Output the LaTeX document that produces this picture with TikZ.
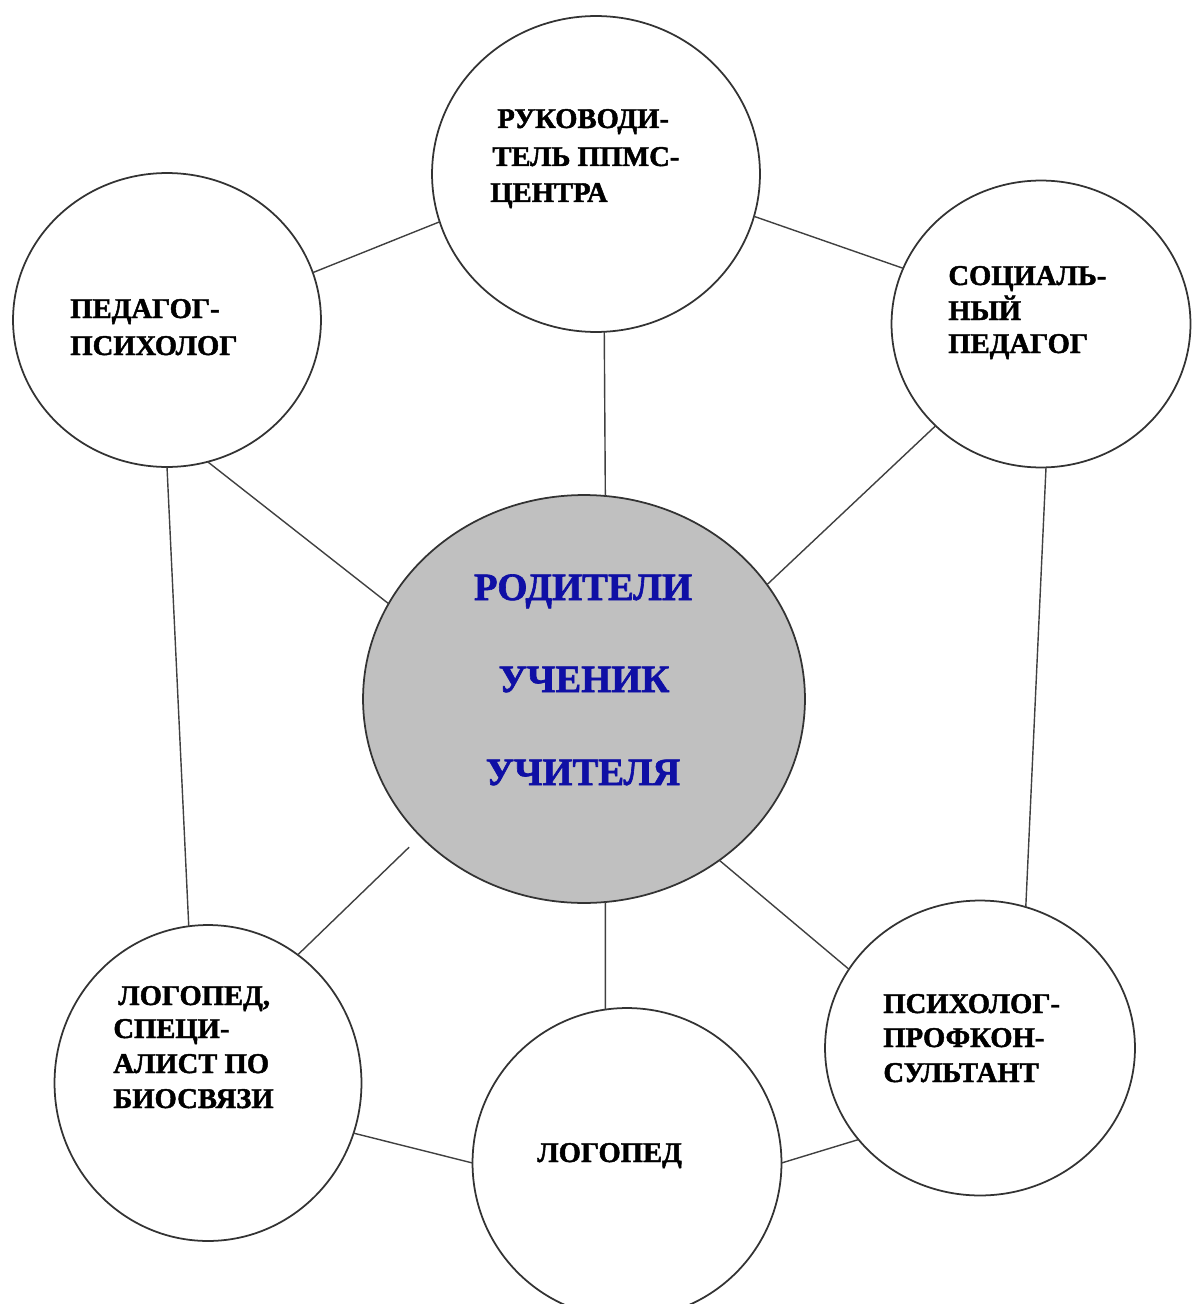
\documentclass[tikz,border=0pt]{standalone}
\usepackage{fontspec}
\setmainfont{Liberation Serif}[BoldFeatures={FakeBold=1.6}]
\usetikzlibrary{shapes.geometric}
\definecolor{textblue}{RGB}{15,15,165}
\definecolor{centerfill}{RGB}{192,192,192}
\begin{document}
\begin{tikzpicture}[x=0.02cm,y=-0.02cm]
\tikzset{
  circ/.style={ellipse, draw=black!80, line width=1pt, fill=white, inner sep=0pt, outer sep=0pt},
  conn/.style={draw=black!75, line width=0.8pt},
  lbl/.style={anchor=base west, inner sep=0pt, font=\fontsize{16.3}{19}\selectfont\bfseries},
  clbl/.style={anchor=base, inner sep=0pt, text=textblue, font=\fontsize{22}{26}\selectfont\bfseries},
}
\useasboundingbox (0,0) rectangle (1192,1304);
\clip (0,0) rectangle (1192,1304);
% circles
\node[circ, minimum width=6.56cm, minimum height=6.32cm] (T) at (596,174) {};
\node[circ, minimum width=6.16cm, minimum height=5.88cm] (L) at (167,320) {};
\node[circ, minimum width=5.98cm, minimum height=5.74cm] (R) at (1041,324) {};
\node[circ, fill=centerfill, minimum width=8.84cm, minimum height=8.16cm] (C) at (584,699) {};
\node[circ, minimum width=6.14cm, minimum height=6.32cm] (BL) at (208,1083) {};
\node[circ, minimum width=6.18cm, minimum height=6.2cm] (B) at (627,1163) {};
\node[circ, minimum width=6.2cm, minimum height=5.9cm] (BR) at (980,1048) {};
% connectors
\draw[conn] (L.270) -- (BL.97);
\draw[conn] (L.286) -- (C.154);
\draw[conn] (L.18) -- (T.197);
\draw[conn] (T.345) -- (R.158);
\draw[conn] (T.273) -- (C.84);
\draw[conn] (R.224) -- (C.32);
\draw[conn] (R.272) -- (BR.72);
\draw[conn, shorten <=9pt] (C.220) -- (BL.55);
\draw[conn] (C.310) -- (BR.149);
\draw[conn] (C.276) -- (B.98);
\draw[conn] (BL.341) -- (B.180);
\draw[conn] (B.0) -- (BR.217);
% labels
\node[lbl] (t1) at (497,128) {РУКОВОДИ-};
\node[lbl] (t2) at (492,166) {ТЕЛЬ ППМС-};
\node[lbl] (t3) at (490,202) {ЦЕНТРА};
\node[lbl] (l1) at (70,318) {ПЕДАГОГ-};
\node[lbl] (l2) at (70,355) {ПСИХОЛОГ};
\node[lbl] (r1) at (948,285) {СОЦИАЛЬ-};
\node[lbl] (r2) at (948,320) {НЫЙ};
\node[lbl] (r3) at (948,353) {ПЕДАГОГ};
\node[clbl] (c1) at (583,600) {РОДИТЕЛИ};
\node[clbl] (c2) at (584,692) {УЧЕНИК};
\node[clbl] (c3) at (583,785) {УЧИТЕЛЯ};
\node[lbl] (bl1) at (118,1005) {ЛОГОПЕД,};
\node[lbl] (bl2) at (113,1038) {СПЕЦИ-};
\node[lbl] (bl3) at (113,1073) {АЛИСТ ПО};
\node[lbl] (bl4) at (113,1108) {БИОСВЯЗИ};
\node[lbl] (b1) at (537,1162) {ЛОГОПЕД};
\node[lbl] (br1) at (883,1013) {ПСИХОЛОГ-};
\node[lbl] (br2) at (883,1047) {ПРОФКОН-};
\node[lbl] (br3) at (883,1082) {СУЛЬТАНТ};
\end{tikzpicture}
\end{document}
